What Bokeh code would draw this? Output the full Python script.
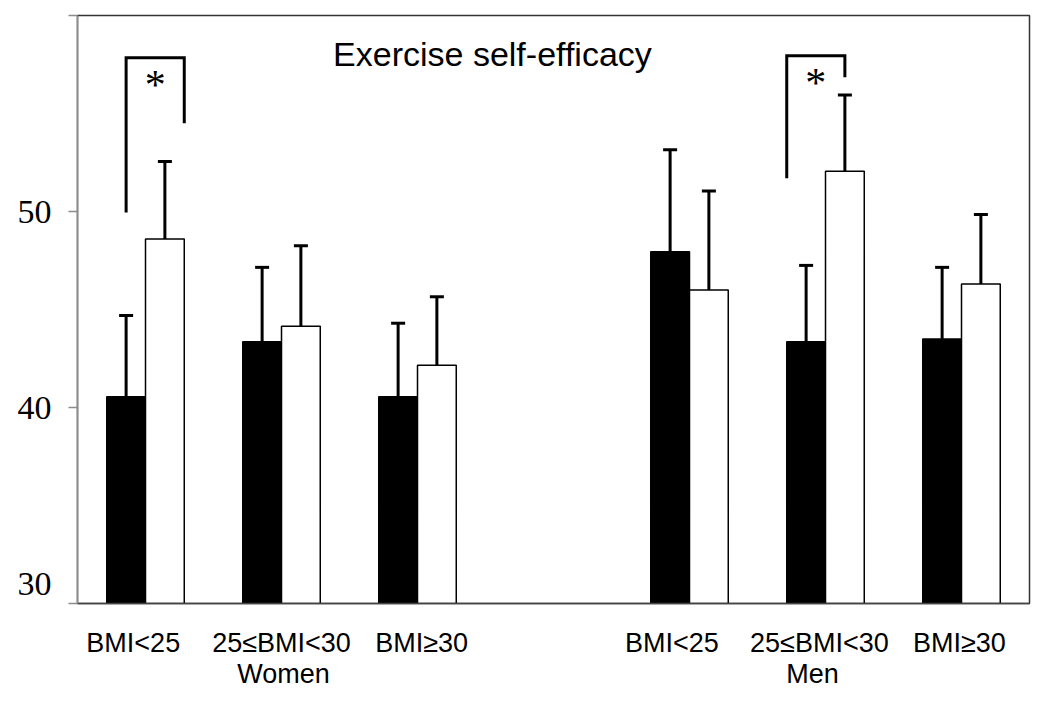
from bokeh.plotting import figure
from bokeh.models import (Range1d, LinearAxis, FixedTicker, Whisker, TeeHead,
                          Label, ColumnDataSource)
from bokeh.embed import file_html
from bokeh.resources import INLINE

# ---------------- data ----------------
groups = ["BMI<25", "25≤BMI<30", "BMI≥30", "BMI<25", "25≤BMI<30", "BMI≥30"]
sexes = ["Women", "Men"]
black_mean = [40.55, 43.35, 40.55, 47.95, 43.35, 43.5]
black_sd = [4.15, 3.8, 3.75, 5.2, 3.9, 3.65]
white_mean = [48.6, 44.15, 42.15, 46.0, 52.05, 46.3]
white_sd = [3.95, 4.1, 3.5, 5.05, 3.9, 3.55]
y_ticks = [30, 40, 50, 60]
y_labels = ["30", "40", "50"]
title_text = "Exercise self-efficacy"

# significance brackets (group index, bracket top, left end, right end)
sig_group = [0, 4]
sig_top = [57.85, 57.95]
sig_left_end = [49.95, 51.7]
sig_right_end = [54.5, 56.85]
sig_mark = ["*", "*"]

# ---------------- layout ----------------
slot = [i + (1 if i >= 3 else 0) for i in range(len(groups))]
bw = 0.285
off = bw / 2
bx = [s - off for s in slot]
wx = [s + off for s in slot]

p = figure(width=1042, height=700, x_range=Range1d(-0.5, 6.5), y_range=Range1d(30, 60),
           output_backend="svg", toolbar_location=None,
           x_axis_location=None, y_axis_location="left",
           min_border_left=77, min_border_right=13, min_border_top=15, min_border_bottom=97)
p.grid.visible = False
p.outline_line_color = "#333333"
p.outline_line_width = 1.5
p.background_fill_color = "white"
p.border_fill_color = "white"

# bars
p.vbar(x=bx, top=black_mean, bottom=30, width=bw, fill_color="black",
       line_color="black", line_width=1.5)
p.vbar(x=wx, top=white_mean, bottom=30, width=bw, fill_color="white",
       line_color="black", line_width=1.5)

# error bars (upper only)
err_src = ColumnDataSource(dict(
    x=bx + wx,
    lo=black_mean + white_mean,
    hi=[m + s for m, s in zip(black_mean, black_sd)] + [m + s for m, s in zip(white_mean, white_sd)],
))
p.add_layout(Whisker(source=err_src, base="x", lower="lo", upper="hi",
                     line_color="black", line_width=3, lower_head=None,
                     upper_head=TeeHead(size=14, line_width=3, line_color="black"),
                     level="overlay"))

# significance brackets
left_shift = [off, bw]          # women: from black centre, men: from black left edge
right_shift = [bw, off]         # women: to white right edge, men: to white centre
for k, g in enumerate(sig_group):
    xl = slot[g] - left_shift[k]
    xr = slot[g] + right_shift[k]
    p.line([xl, xl, xr, xr], [sig_left_end[k], sig_top[k], sig_top[k], sig_right_end[k]],
           line_color="black", line_width=3, line_join="miter")
    p.add_layout(Label(x=(xl + xr) / 2, y=sig_top[k] - 1.4, text=sig_mark[k],
                       text_font="Liberation Serif", text_font_size="42px",
                       text_align="center", text_baseline="alphabetic", text_color="black"))

# title inside plot
p.add_layout(Label(x=2.551, y=58.05, text=title_text, text_font="Liberation Sans",
                   text_font_size="34px", text_align="center", text_baseline="alphabetic",
                   text_color="black"))

# y axis: line + ticks (no labels)
ya = p.yaxis[0]
ya.ticker = FixedTicker(ticks=y_ticks)
ya.major_label_overrides = {t: "" for t in y_ticks}
ya.major_label_standoff = 0
ya.major_tick_out = 9
ya.major_tick_in = 0
ya.minor_tick_line_color = None
ya.axis_line_color = "#8c8c8c"
ya.axis_line_width = 1.5
ya.major_tick_line_color = "#8c8c8c"
ya.major_tick_line_width = 1.5

# y labels on a second axis (the lowest label is lifted off the x axis)
ylab_pos = [31.0, 40, 50]
ya2 = LinearAxis(ticker=FixedTicker(ticks=ylab_pos),
                 major_label_overrides={t: s for t, s in zip(ylab_pos, y_labels)})
ya2.axis_line_color = None
ya2.major_tick_line_color = None
ya2.major_tick_out = 0
ya2.major_tick_in = 0
ya2.minor_tick_line_color = None
ya2.major_label_text_font = "Liberation Serif"
ya2.major_label_text_font_size = "34px"
ya2.major_label_text_color = "black"
ya2.major_label_standoff = 17
p.add_layout(ya2, "left")

# x axes (group labels, then sex labels)
nudge = [-0.09, 0.0, 0.03, -0.13, -0.045, -0.015]
lab_x = [s + n for s, n in zip(slot, nudge)]
ax1 = LinearAxis(ticker=FixedTicker(ticks=lab_x),
                 major_label_overrides={t: g for t, g in zip(lab_x, groups)})
ax1.axis_line_color = "#444444"
ax1.axis_line_width = 1.5
ax1.major_tick_line_color = None
ax1.major_tick_out = 0
ax1.major_tick_in = 0
ax1.minor_tick_line_color = None
ax1.major_label_text_font = "Liberation Sans"
ax1.major_label_text_font_size = "27px"
ax1.major_label_text_color = "black"
ax1.major_label_standoff = 24
p.add_layout(ax1, "below")

sex_x = [slot[1] + 0.015, slot[4] - 0.095]
ax2 = LinearAxis(ticker=FixedTicker(ticks=sex_x),
                 major_label_overrides={t: s for t, s in zip(sex_x, sexes)})
ax2.axis_line_color = None
ax2.major_tick_line_color = None
ax2.major_tick_out = 0
ax2.major_tick_in = 0
ax2.minor_tick_line_color = None
ax2.major_label_text_font = "Liberation Sans"
ax2.major_label_text_font_size = "27px"
ax2.major_label_text_color = "black"
ax2.major_label_standoff = -2
p.add_layout(ax2, "below")

open("out.html", "w").write(file_html(p, INLINE))
